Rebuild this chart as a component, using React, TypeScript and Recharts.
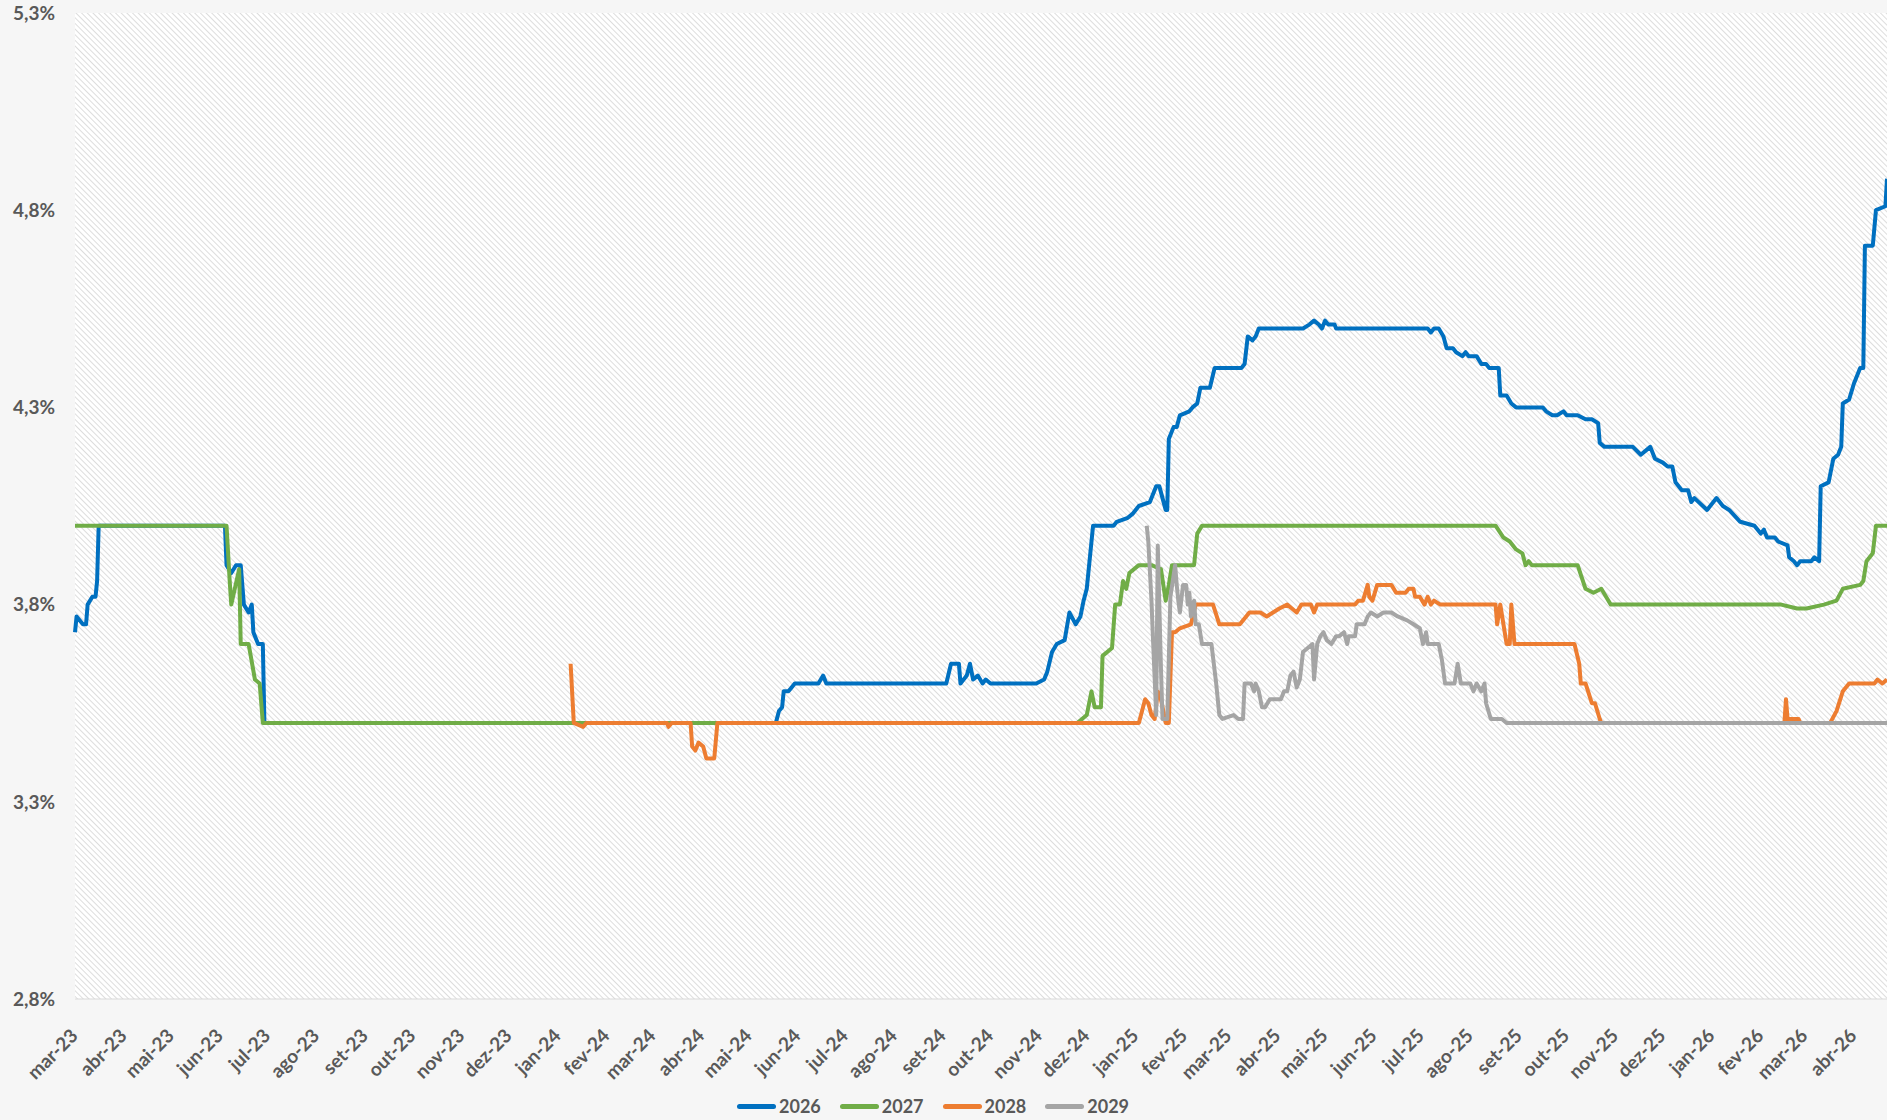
import React from 'react';
import { LineChart, Line, XAxis, YAxis, CartesianGrid, Legend } from 'recharts';

// valores (data, %)
const serie2026: [string, number][] = [
  ['2023-03-01', 3.73], ['2023-03-02', 3.77], ['2023-03-06', 3.75], ['2023-03-08', 3.75],
  ['2023-03-09', 3.8], ['2023-03-12', 3.82], ['2023-03-14', 3.82], ['2023-03-15', 3.86],
  ['2023-03-16', 4.0], ['2023-06-04', 4.0], ['2023-06-05', 3.9], ['2023-06-08', 3.88],
  ['2023-06-11', 3.9], ['2023-06-14', 3.9], ['2023-06-16', 3.8], ['2023-06-19', 3.78],
  ['2023-06-21', 3.8], ['2023-06-22', 3.73], ['2023-06-25', 3.7], ['2023-06-28', 3.7],
  ['2023-06-29', 3.5], ['2024-05-18', 3.5], ['2024-05-20', 3.53], ['2024-05-22', 3.54],
  ['2024-05-23', 3.58], ['2024-05-26', 3.58], ['2024-05-28', 3.59], ['2024-05-30', 3.6],
  ['2024-06-14', 3.6], ['2024-06-17', 3.62], ['2024-06-19', 3.6], ['2024-09-03', 3.6],
  ['2024-09-06', 3.65], ['2024-09-11', 3.65], ['2024-09-12', 3.6], ['2024-09-16', 3.62],
  ['2024-09-18', 3.65], ['2024-09-20', 3.61], ['2024-09-23', 3.62], ['2024-09-26', 3.6],
  ['2024-09-28', 3.61], ['2024-10-01', 3.6], ['2024-10-30', 3.6], ['2024-11-04', 3.61],
  ['2024-11-06', 3.63], ['2024-11-09', 3.68], ['2024-11-12', 3.7], ['2024-11-17', 3.71],
  ['2024-11-20', 3.78], ['2024-11-24', 3.75], ['2024-11-27', 3.77], ['2024-11-29', 3.81],
  ['2024-12-01', 3.84], ['2024-12-03', 3.92], ['2024-12-05', 4.0], ['2024-12-18', 4.0],
  ['2024-12-20', 4.01], ['2024-12-27', 4.02], ['2024-12-30', 4.03], ['2025-01-03', 4.05],
  ['2025-01-10', 4.06], ['2025-01-14', 4.1], ['2025-01-16', 4.1], ['2025-01-18', 4.07],
  ['2025-01-20', 4.04], ['2025-01-21', 4.04], ['2025-01-22', 4.22], ['2025-01-25', 4.25],
  ['2025-01-27', 4.25], ['2025-01-29', 4.28], ['2025-02-04', 4.29], ['2025-02-06', 4.3],
  ['2025-02-09', 4.31], ['2025-02-11', 4.35], ['2025-02-13', 4.35], ['2025-02-17', 4.35],
  ['2025-02-20', 4.4], ['2025-02-23', 4.4], ['2025-03-09', 4.4], ['2025-03-11', 4.41],
  ['2025-03-13', 4.48], ['2025-03-16', 4.47], ['2025-03-18', 4.48], ['2025-03-20', 4.5],
  ['2025-04-17', 4.5], ['2025-04-21', 4.51], ['2025-04-24', 4.52], ['2025-04-27', 4.51],
  ['2025-04-29', 4.5], ['2025-05-01', 4.52], ['2025-05-03', 4.51], ['2025-05-07', 4.51],
  ['2025-05-08', 4.5], ['2025-07-05', 4.5], ['2025-07-07', 4.49], ['2025-07-09', 4.5],
  ['2025-07-12', 4.5], ['2025-07-15', 4.48], ['2025-07-17', 4.45], ['2025-07-21', 4.45],
  ['2025-07-23', 4.44], ['2025-07-27', 4.43], ['2025-07-29', 4.44], ['2025-07-31', 4.43],
  ['2025-08-05', 4.43], ['2025-08-08', 4.41], ['2025-08-11', 4.41], ['2025-08-13', 4.4],
  ['2025-08-19', 4.4], ['2025-08-20', 4.33], ['2025-08-24', 4.33], ['2025-08-27', 4.31],
  ['2025-08-30', 4.3], ['2025-09-16', 4.3], ['2025-09-18', 4.29], ['2025-09-22', 4.28],
  ['2025-09-25', 4.28], ['2025-09-29', 4.29], ['2025-10-01', 4.28], ['2025-10-08', 4.28],
  ['2025-10-13', 4.27], ['2025-10-17', 4.27], ['2025-10-21', 4.26], ['2025-10-22', 4.21],
  ['2025-10-25', 4.2], ['2025-11-12', 4.2], ['2025-11-17', 4.18], ['2025-11-23', 4.2],
  ['2025-11-26', 4.17], ['2025-12-01', 4.16], ['2025-12-04', 4.15], ['2025-12-07', 4.15],
  ['2025-12-09', 4.11], ['2025-12-13', 4.09], ['2025-12-17', 4.09], ['2025-12-19', 4.06],
  ['2025-12-21', 4.07], ['2025-12-29', 4.04], ['2026-01-04', 4.07], ['2026-01-08', 4.05],
  ['2026-01-12', 4.04], ['2026-01-19', 4.01], ['2026-01-28', 4.0], ['2026-02-01', 3.98],
  ['2026-02-03', 3.99], ['2026-02-05', 3.97], ['2026-02-08', 3.97], ['2026-02-10', 3.97],
  ['2026-02-12', 3.96], ['2026-02-18', 3.95], ['2026-02-19', 3.92], ['2026-02-22', 3.91],
  ['2026-02-24', 3.9], ['2026-02-26', 3.91], ['2026-03-05', 3.91], ['2026-03-07', 3.92],
  ['2026-03-10', 3.91], ['2026-03-11', 4.1], ['2026-03-16', 4.11], ['2026-03-19', 4.17],
  ['2026-03-22', 4.18], ['2026-03-24', 4.2], ['2026-03-25', 4.31], ['2026-03-29', 4.32],
  ['2026-04-01', 4.36], ['2026-04-05', 4.4], ['2026-04-07', 4.4], ['2026-04-08', 4.71],
  ['2026-04-13', 4.71], ['2026-04-15', 4.8], ['2026-04-21', 4.81], ['2026-04-22', 4.88],
];

const serie2027: [string, number][] = [
  ['2023-03-01', 4.0], ['2023-06-05', 4.0], ['2023-06-07', 3.86], ['2023-06-08', 3.8],
  ['2023-06-13', 3.89], ['2023-06-14', 3.7], ['2023-06-19', 3.7], ['2023-06-23', 3.61],
  ['2023-06-26', 3.6], ['2023-06-28', 3.5], ['2024-11-25', 3.5], ['2024-12-01', 3.52],
  ['2024-12-04', 3.58], ['2024-12-06', 3.54], ['2024-12-10', 3.54], ['2024-12-11', 3.67],
  ['2024-12-17', 3.69], ['2024-12-19', 3.8], ['2024-12-22', 3.8], ['2024-12-24', 3.86],
  ['2024-12-26', 3.84], ['2024-12-28', 3.88], ['2025-01-03', 3.9], ['2025-01-11', 3.9],
  ['2025-01-17', 3.89], ['2025-01-20', 3.81], ['2025-01-22', 3.85], ['2025-01-24', 3.9],
  ['2025-02-07', 3.9], ['2025-02-09', 3.98], ['2025-02-12', 4.0], ['2025-08-17', 4.0],
  ['2025-08-22', 3.97], ['2025-08-26', 3.96], ['2025-08-30', 3.94], ['2025-09-03', 3.93],
  ['2025-09-05', 3.9], ['2025-09-07', 3.91], ['2025-09-09', 3.9], ['2025-10-08', 3.9],
  ['2025-10-13', 3.84], ['2025-10-18', 3.83], ['2025-10-23', 3.84], ['2025-10-26', 3.82],
  ['2025-10-29', 3.8], ['2026-02-14', 3.8], ['2026-02-24', 3.79], ['2026-03-02', 3.79],
  ['2026-03-13', 3.8], ['2026-03-21', 3.81], ['2026-03-25', 3.84], ['2026-04-05', 3.85],
  ['2026-04-07', 3.86], ['2026-04-09', 3.91], ['2026-04-13', 3.93], ['2026-04-15', 4.0],
  ['2026-04-22', 4.0],
];

const serie2028: [string, number][] = [
  ['2024-01-09', 3.65], ['2024-01-11', 3.5], ['2024-01-17', 3.49], ['2024-01-19', 3.5],
  ['2024-03-10', 3.5], ['2024-03-11', 3.49], ['2024-03-13', 3.5], ['2024-03-25', 3.5],
  ['2024-03-26', 3.44], ['2024-03-28', 3.43], ['2024-03-30', 3.45], ['2024-04-02', 3.44],
  ['2024-04-04', 3.41], ['2024-04-09', 3.41], ['2024-04-11', 3.5], ['2025-01-03', 3.5],
  ['2025-01-07', 3.56], ['2025-01-09', 3.55], ['2025-01-11', 3.52], ['2025-01-13', 3.51],
  ['2025-01-15', 3.58], ['2025-01-17', 3.56], ['2025-01-20', 3.5], ['2025-01-22', 3.5],
  ['2025-01-24', 3.73], ['2025-01-26', 3.73], ['2025-01-29', 3.74], ['2025-02-05', 3.75],
  ['2025-02-08', 3.8], ['2025-02-19', 3.8], ['2025-02-23', 3.75], ['2025-03-08', 3.75],
  ['2025-03-12', 3.77], ['2025-03-14', 3.78], ['2025-03-21', 3.78], ['2025-03-25', 3.77],
  ['2025-03-29', 3.78], ['2025-04-02', 3.79], ['2025-04-07', 3.8], ['2025-04-10', 3.79],
  ['2025-04-13', 3.78], ['2025-04-16', 3.8], ['2025-04-22', 3.8], ['2025-04-24', 3.78],
  ['2025-04-26', 3.8], ['2025-05-20', 3.8], ['2025-05-22', 3.81], ['2025-05-25', 3.81],
  ['2025-05-28', 3.85], ['2025-05-29', 3.82], ['2025-05-31', 3.81], ['2025-06-03', 3.85],
  ['2025-06-12', 3.85], ['2025-06-15', 3.83], ['2025-06-21', 3.83], ['2025-06-23', 3.84],
  ['2025-06-26', 3.84], ['2025-06-27', 3.82], ['2025-06-30', 3.82], ['2025-07-03', 3.8],
  ['2025-07-05', 3.82], ['2025-07-07', 3.8], ['2025-07-09', 3.81], ['2025-07-13', 3.8],
  ['2025-08-17', 3.8], ['2025-08-18', 3.75], ['2025-08-20', 3.8], ['2025-08-22', 3.75],
  ['2025-08-24', 3.7], ['2025-08-26', 3.7], ['2025-08-27', 3.8], ['2025-08-29', 3.7],
  ['2025-10-06', 3.7], ['2025-10-09', 3.65], ['2025-10-10', 3.6], ['2025-10-13', 3.6],
  ['2025-10-17', 3.55], ['2025-10-19', 3.55], ['2025-10-22', 3.51], ['2025-10-23', 3.5],
  ['2026-02-16', 3.5], ['2026-02-17', 3.56], ['2026-02-18', 3.51], ['2026-02-25', 3.51],
  ['2026-02-26', 3.5], ['2026-03-17', 3.5], ['2026-03-21', 3.53], ['2026-03-25', 3.58],
  ['2026-03-29', 3.6], ['2026-04-14', 3.6], ['2026-04-16', 3.61], ['2026-04-19', 3.6],
  ['2026-04-22', 3.61],
];

const serie2029: [string, number][] = [
  ['2025-01-08', 4.0], ['2025-01-09', 3.96], ['2025-01-11', 3.81], ['2025-01-12', 3.71],
  ['2025-01-14', 3.52], ['2025-01-15', 3.95], ['2025-01-17', 3.64], ['2025-01-18', 3.51],
  ['2025-01-21', 3.51], ['2025-01-23', 3.82], ['2025-01-26', 3.9], ['2025-01-27', 3.85],
  ['2025-01-28', 3.81], ['2025-01-29', 3.78], ['2025-01-31', 3.85], ['2025-02-02', 3.85],
  ['2025-02-03', 3.8], ['2025-02-04', 3.83], ['2025-02-05', 3.77], ['2025-02-07', 3.81],
  ['2025-02-08', 3.75], ['2025-02-10', 3.75], ['2025-02-12', 3.7], ['2025-02-18', 3.7],
  ['2025-02-21', 3.6], ['2025-02-23', 3.52], ['2025-02-25', 3.51], ['2025-03-04', 3.52],
  ['2025-03-07', 3.51], ['2025-03-10', 3.51], ['2025-03-11', 3.6], ['2025-03-15', 3.6],
  ['2025-03-17', 3.58], ['2025-03-18', 3.6], ['2025-03-20', 3.58], ['2025-03-22', 3.54],
  ['2025-03-24', 3.54], ['2025-03-27', 3.56], ['2025-04-03', 3.56], ['2025-04-05', 3.58],
  ['2025-04-07', 3.58], ['2025-04-09', 3.62], ['2025-04-11', 3.63], ['2025-04-13', 3.59],
  ['2025-04-15', 3.61], ['2025-04-17', 3.68], ['2025-04-20', 3.69], ['2025-04-23', 3.7],
  ['2025-04-24', 3.61], ['2025-04-26', 3.7], ['2025-04-28', 3.72], ['2025-04-30', 3.73],
  ['2025-05-02', 3.71], ['2025-05-05', 3.7], ['2025-05-08', 3.72], ['2025-05-10', 3.72],
  ['2025-05-13', 3.73], ['2025-05-15', 3.7], ['2025-05-16', 3.72], ['2025-05-20', 3.72],
  ['2025-05-21', 3.75], ['2025-05-26', 3.75], ['2025-05-28', 3.77], ['2025-05-30', 3.78],
  ['2025-06-03', 3.77], ['2025-06-07', 3.78], ['2025-06-12', 3.78], ['2025-06-16', 3.77],
  ['2025-06-22', 3.76], ['2025-06-26', 3.75], ['2025-06-30', 3.74], ['2025-07-02', 3.7],
  ['2025-07-04', 3.73], ['2025-07-05', 3.7], ['2025-07-12', 3.7], ['2025-07-14', 3.66],
  ['2025-07-16', 3.6], ['2025-07-22', 3.6], ['2025-07-24', 3.65], ['2025-07-26', 3.6],
  ['2025-08-01', 3.6], ['2025-08-03', 3.58], ['2025-08-05', 3.6], ['2025-08-08', 3.58],
  ['2025-08-10', 3.6], ['2025-08-11', 3.55], ['2025-08-14', 3.51], ['2025-08-21', 3.51],
  ['2025-08-24', 3.5], ['2026-04-22', 3.5],
];

const monthLabels = [
  'mar-23', 'abr-23', 'mai-23', 'jun-23', 'jul-23', 'ago-23', 'set-23', 'out-23', 'nov-23', 'dez-23',
  'jan-24', 'fev-24', 'mar-24', 'abr-24', 'mai-24', 'jun-24', 'jul-24', 'ago-24', 'set-24', 'out-24',
  'nov-24', 'dez-24', 'jan-25', 'fev-25', 'mar-25', 'abr-25', 'mai-25', 'jun-25', 'jul-25', 'ago-25',
  'set-25', 'out-25', 'nov-25', 'dez-25', 'jan-26', 'fev-26', 'mar-26', 'abr-26',
];

const yTicks = [2.8, 3.3, 3.8, 4.3, 4.8, 5.3];

const START = Date.UTC(2023, 2, 1);
const END = '2026-04-22';
const dayIndex = (iso: string) => Math.round((Date.parse(iso) - START) / 86400000);
const toPoints = (s: [string, number][]) => s.map(([d, v]) => ({ t: dayIndex(d), v }));

const monthTicks = monthLabels.map((_, i) => Math.round((Date.UTC(2023, 2 + i, 1) - START) / 86400000));

const series = [
  { name: '2026', color: '#0070C0', data: toPoints(serie2026) },
  { name: '2027', color: '#70AD47', data: toPoints(serie2027) },
  { name: '2028', color: '#ED7D31', data: toPoints(serie2028) },
  { name: '2029', color: '#A5A5A5', data: toPoints(serie2029) },
];

const FONT = 'Lato, "Open Sans", sans-serif';
const TEXT = '#595959';

const MonthTick = ({ x, y, payload }: any) => {
  const i = monthTicks.indexOf(payload.value);
  const ax = x + 4;
  const ay = y + 38;
  return (
    <text
      x={ax}
      y={ay}
      transform={`rotate(-45, ${ax}, ${ay})`}
      textAnchor="end"
      fill={TEXT}
      fontSize={19}
      fontWeight={700}
      fontFamily={FONT}
    >
      {i >= 0 ? monthLabels[i] : ''}
    </text>
  );
};

const renderLegend = () => (
  <div style={{ height: 28, display: 'flex', alignItems: 'center', paddingLeft: 737, fontFamily: FONT }}>
    {series.map((s) => (
      <div key={s.name} style={{ display: 'flex', alignItems: 'center', marginRight: 19 }}>
        <div style={{ width: 39, height: 5, borderRadius: 3, background: s.color, marginRight: 3 }} />
        <span style={{ fontSize: 18, fontWeight: 700, color: TEXT, lineHeight: '28px' }}>{s.name}</span>
      </div>
    ))}
  </div>
);

const App: React.FC = () => {
  return (
    <div style={{ position: 'absolute', left: 0, top: 0, width: 1887, height: 1120, background: '#f6f6f6', fontFamily: FONT }}>
      <LineChart width={1887} height={1120} margin={{ top: 13, right: 0, left: 0, bottom: 0 }}>
        <defs>
          <pattern id="hatch" width="4" height="4" patternUnits="userSpaceOnUse" patternTransform="rotate(-45)">
            <rect width="4" height="4" fill="#ffffff" />
            <line x1="0" y1="0" x2="0" y2="4" stroke="#c6c6c6" strokeWidth={1.2} />
          </pattern>
        </defs>
        <CartesianGrid horizontal={false} vertical={false} fill="url(#hatch)" fillOpacity={1} />
        <XAxis
          dataKey="t"
          type="number"
          domain={[0, dayIndex(END)]}
          ticks={monthTicks}
          interval={0}
          height={93}
          tickSize={0}
          tickMargin={0}
          axisLine={{ stroke: '#d9d9d9' }}
          tickLine={false}
          tick={<MonthTick />}
        />
        <YAxis
          type="number"
          domain={[2.8, 5.3]}
          ticks={yTicks}
          width={75}
          tickSize={0}
          tickMargin={20}
          axisLine={false}
          tickLine={false}
          tick={{ fill: TEXT, fontSize: 19, fontWeight: 700, fontFamily: FONT }}
          tickFormatter={(v: number) => `${v.toFixed(1).replace('.', ',')}%`}
        />
        <Legend verticalAlign="bottom" content={renderLegend} />
        {series.map((s) => (
          <Line
            key={s.name}
            data={s.data}
            dataKey="v"
            name={s.name}
            type="linear"
            stroke={s.color}
            strokeWidth={4}
            strokeLinejoin="round"
            dot={false}
            activeDot={false}
            isAnimationActive={false}
          />
        ))}
      </LineChart>
    </div>
  );
};

export default App;
